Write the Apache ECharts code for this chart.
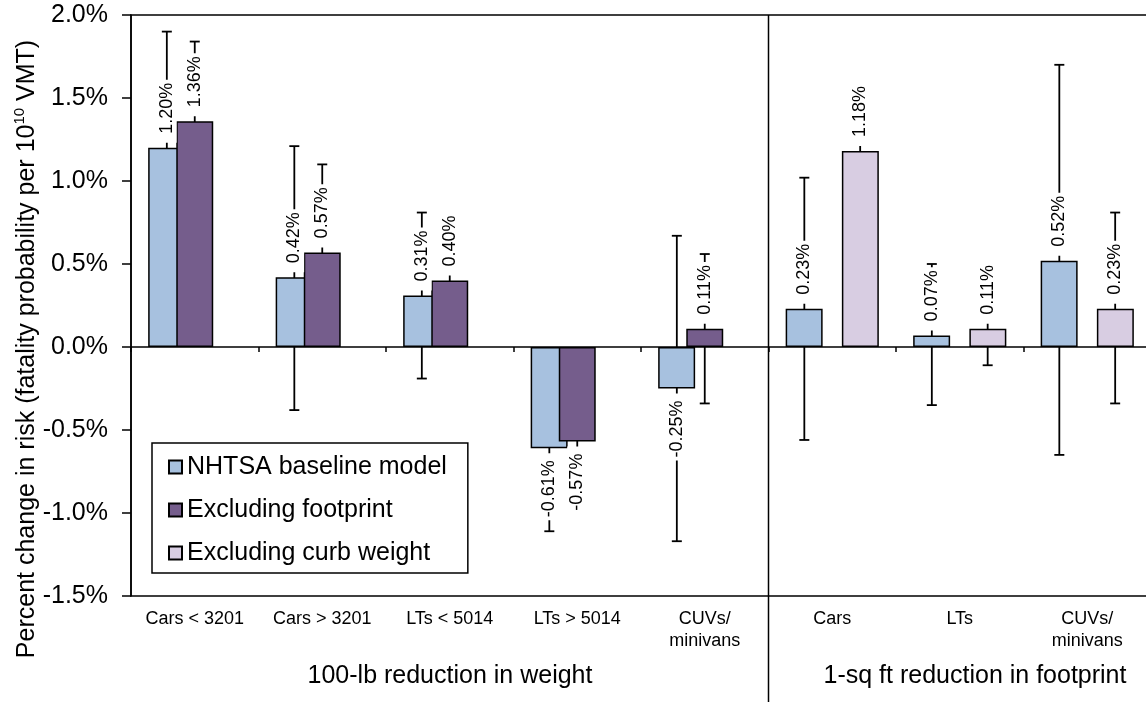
<!DOCTYPE html>
<html><head><meta charset="utf-8">
<script src="https://cdn.jsdelivr.net/npm/echarts@6/dist/echarts.min.js"></script>
<style>html,body{margin:0;padding:0;background:#fff}#c{width:1146px;height:702px}</style>
</head><body><div id="c"></div>
<script>
// ---- data ----
const categories = ['Cars < 3201', 'Cars > 3201', 'LTs < 5014', 'LTs > 5014', 'CUVs/\nminivans', 'Cars', 'LTs', 'CUVs/\nminivans'];
const seriesNames = ['NHTSA baseline model', 'Excluding footprint', 'Excluding curb weight'];
const groupTitles = ['100-lb reduction in weight', '1-sq ft reduction in footprint'];
const yTitle = 'Percent change in risk (fatality probability per 10{sup|10} VMT)';

const baseline      = [1.20, 0.42, 0.31, -0.61, -0.25, 0.23, 0.07, 0.52];
const exclFootprint = [1.36, 0.57, 0.40, -0.57, 0.11, null, null, null];
const exclCurb      = [null, null, null, null, null, 1.18, 0.11, 0.23];

const baselineLow  = [0.50, -0.38, -0.19, -1.11, -1.17, -0.56, -0.35, -0.65];
const baselineHigh = [1.90, 1.21, 0.81, -0.10, 0.67, 1.02, 0.50, 1.70];
const footLow      = [0.88, 0.03, 0.10, -0.97, -0.34, null, null, null];
const footHigh     = [1.84, 1.10, 0.70, -0.13, 0.56, null, null, null];
const curbLow      = [null, null, null, null, null, 0.81, -0.11, -0.34];
const curbHigh     = [null, null, null, null, null, 1.55, 0.33, 0.81];

const yMin = -1.5, yMax = 2.0, yStep = 0.5;

// ---- chart ----
const FONT = '"Liberation Sans", Arial, sans-serif';
const colors = ['#a7c1df', '#755d8c', '#d8cde2'];
const values = [baseline, exclFootprint, exclCurb];
const lows = [baselineLow, footLow, curbLow];
const highs = [baselineHigh, footHigh, curbHigh];

const chart = echarts.init(document.getElementById('c'), null, {renderer: 'canvas'});

function barData(arr) {
  return arr.map(v => v == null ? null : {
    value: v,
    label: v < 0 ? {position: 'bottom', align: 'right', padding: [1, 7, 1, 3]}
                 : {position: 'top', align: 'left', padding: [1, 3, 1, 9]}
  });
}

const barSeries = values.map((arr, i) => ({
  type: 'bar', name: seriesNames[i], xAxisIndex: 0, yAxisIndex: 0,
  data: barData(arr),
  barWidth: '29%', barGap: '-24%',
  itemStyle: {color: colors[i], borderColor: '#000', borderWidth: 1.5},
  label: {
    show: true, rotate: 90, verticalAlign: 'middle', distance: 5,
    fontSize: 18, fontFamily: FONT, color: '#000',
    backgroundColor: '#fff',
    formatter: p => p.value.toFixed(2) + '%'
  },
  emphasis: {disabled: true}, silent: true
}));

const errSeries = values.map((arr, i) => ({
  type: 'custom', xAxisIndex: 0, yAxisIndex: 0, silent: true, z: 2,
  encode: {x: 0, y: [1, 2]},
  data: categories.map((c, k) => [k, lows[i][k], highs[i][k]]).filter(d => d[1] != null),
  renderItem: (params, api) => {
    const k = api.value(0);
    const band = api.size([1, 0])[0];
    const off = (i - 1) * band * 0.219;
    const lo = api.coord([k, api.value(1)]);
    const hi = api.coord([k, api.value(2)]);
    const x = lo[0] + off, cap = 5;
    const st = {stroke: '#000', lineWidth: 1.8};
    return {type: 'group', children: [
      {type: 'line', shape: {x1: x, y1: lo[1], x2: x, y2: hi[1]}, style: st},
      {type: 'line', shape: {x1: x - cap, y1: lo[1], x2: x + cap, y2: lo[1]}, style: st},
      {type: 'line', shape: {x1: x - cap, y1: hi[1], x2: x + cap, y2: hi[1]}, style: st}
    ]};
  }
}));

chart.setOption({
  animation: false,
  backgroundColor: '#fff',
  grid: {left: 131, right: -5, top: 15, bottom: 106, show: true, borderColor: '#000', borderWidth: 1.5,
         containLabel: false, outerBoundsMode: 'none'},
  legend: {
    data: seriesNames, orient: 'vertical', left: 152, top: 443, icon: 'rect',
    itemWidth: 13, itemHeight: 13, itemGap: 13, padding: [9, 21, 5, 16],
    borderColor: '#000', borderWidth: 1.5, backgroundColor: '#fff', selectedMode: false,
    textStyle: {fontSize: 25, fontFamily: FONT, color: '#000', lineHeight: 30}
  },
  xAxis: [
    {type: 'category', data: categories, gridIndex: 0, position: 'top',
     axisLine: {onZero: true, lineStyle: {color: '#000', width: 1.5}},
     axisTick: {show: true, inside: true, length: 5, lineStyle: {color: '#000', width: 1.5}},
     axisLabel: {show: false}, splitLine: {show: false}},
    {type: 'category', data: categories, gridIndex: 0, position: 'bottom',
     axisLine: {show: false, onZero: false}, axisTick: {show: false}, splitLine: {show: false},
     axisLabel: {interval: 0, fontSize: 18, lineHeight: 22, margin: 12, color: '#000', fontFamily: FONT}}
  ],
  yAxis: {
    type: 'value', min: yMin, max: yMax, interval: yStep,
    axisLine: {show: true, lineStyle: {color: '#000', width: 1.5}},
    axisTick: {show: true, length: 9, lineStyle: {color: '#000', width: 1.5}},
    splitLine: {show: false},
    axisLabel: {fontSize: 25, margin: 23, color: '#000', fontFamily: FONT, formatter: v => v.toFixed(1) + '%'}
  },
  series: barSeries.concat(errSeries)
});

// separator between the two groups + titles
const c4 = chart.convertToPixel({xAxisIndex: 0}, 4);
const c5 = chart.convertToPixel({xAxisIndex: 0}, 5);
const sepX = (c4 + c5) / 2;
const gridTop = chart.convertToPixel({yAxisIndex: 0}, yMax);
chart.setOption({
  graphic: [
    {type: 'line', shape: {x1: sepX, y1: gridTop, x2: sepX, y2: 702}, style: {stroke: '#000', lineWidth: 1.5}, z: 10},
    {type: 'text', x: 450, y: 676, style: {text: groupTitles[0], font: '25px ' + FONT, fill: '#000', align: 'center', verticalAlign: 'middle'}},
    {type: 'text', x: 975, y: 676, style: {text: groupTitles[1], font: '25px ' + FONT, fill: '#000', align: 'center', verticalAlign: 'middle'}},
    {type: 'text', x: 27, y: 349, rotation: Math.PI / 2,
     style: {text: yTitle, font: '25px ' + FONT, fill: '#000', align: 'center', verticalAlign: 'middle',
             rich: {sup: {fontSize: 15, fontFamily: FONT, verticalAlign: 'top', lineHeight: 30, padding: [0, 0, 12, 0]}}}}
  ]
});
</script>
</body></html>
